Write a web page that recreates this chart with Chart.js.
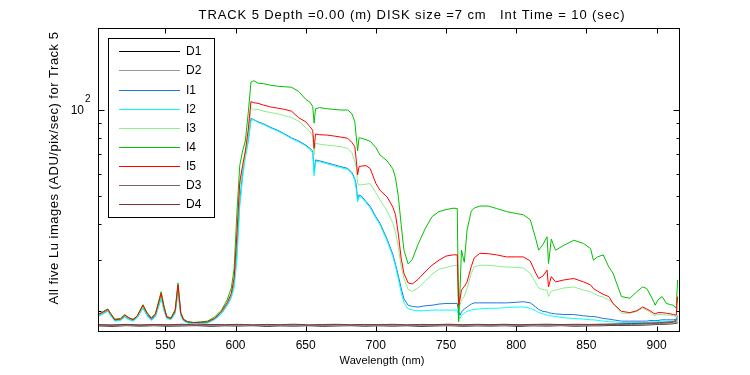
<!DOCTYPE html>
<html>
<head>
<meta charset="utf-8">
<script src="https://cdn.jsdelivr.net/npm/chart.js@4"></script>
<style>
  html, body { margin: 0; padding: 0; background: #fff; }
  canvas { display: block; }
</style>
</head>
<body>
<canvas id="lineChart" width="750" height="375"></canvas>
<script>
// Wavelength grid for the illuminated spectra (nm)
const wavelength = [
  502,505,509,511,514,518,521,524,527,530,
  534,537,540,543,547,549,551,554,557,559,
  561,563,566,570,575,580,585,590,594,597,
  599,601,603,605,607,609,611,613,616,620,
  625,630,635,640,645,650,653,655,656,657,
  660,665,670,675,680,683,685,686,687,688,
  690,693,696,700,703,708,712,714,716,718,
  720,723,726,730,735,740,745,750,755,758,
  759,760,761,763,765,768,770,774,780,786,
  793,800,805,810,814,816,819,822,823,825,
  828,834,841,848,853,855,858,862,866,869,
  875,881,886,890,893,896,898,899,901,904,
  907,910,912,914,915
];

const i1 = [
  19.2,19.5,20.0,19.3,18.5,18.6,19.1,18.7,18.5,19.0,
  20.5,19.3,18.6,19.2,22.3,20.2,18.9,18.7,19.7,23.6,
  19.3,18.5,18.2,18.1,18.1,18.2,18.7,19.6,21.0,22.5,
  25,33,48,60,70,78,93.5,92.5,91,89.5,
  87,85,82.5,80,78,75.5,73.5,72,61,67,
  66.5,65.5,64.5,63.5,62.6,60.5,57.5,55,48.6,50.6,
  50,48,46.1,42.5,40.3,35.5,31.5,29,26.5,24,
  22,20.9,20.7,20.6,20.8,20.9,21.1,21.2,21.2,21.2,
  19.8,19.3,19.8,20.3,20.6,21.1,21.3,21.3,21.3,21.3,
  21.3,21.4,21.5,21.3,20.6,20.2,19.9,19.8,19.7,19.6,
  19.5,19.4,19.4,19.2,19.1,19.1,19.0,18.8,18.7,18.6,
  18.4,18.4,18.4,18.4,18.4,18.5,18.5,18.5,18.5,18.6,
  18.6,18.6,18.6,18.7,19.2
];

const i2 = [
  19.1,19.4,19.9,19.2,18.4,18.5,19.0,18.6,18.4,18.9,
  20.4,19.2,18.5,19.1,22.0,20.0,18.8,18.6,19.6,23.2,
  19.2,18.4,18.1,18.0,18.0,18.1,18.6,19.5,20.8,22.2,
  24,30,46,58,68,77,92,92.5,90.5,89,
  86.5,84.5,82,79.5,77.5,75,73,71,59,66,
  66,65,64,63,62,60,57,53,47.9,50,
  49.5,47.5,45.6,42,39.8,35,31,28.5,25.8,23.2,
  21.3,20.3,20.1,20.0,20.0,20.1,20.1,20.1,20.1,20.1,
  19.0,18.8,19.3,19.6,19.9,20.1,20.2,20.3,20.4,20.4,
  20.5,20.6,20.6,20.4,20.0,19.7,19.5,19.3,19.2,19.2,
  19.1,18.9,18.8,18.7,18.6,18.6,18.5,18.4,18.3,18.3,
  18.2,18.2,18.2,18.2,18.2,18.3,18.3,18.3,18.3,18.4,
  18.4,18.4,18.4,18.5,18.9
];

const i3 = [
  19.3,19.6,20.1,19.4,18.6,18.7,19.2,18.8,18.6,19.1,
  20.7,19.5,18.8,19.4,22.6,20.4,19.0,18.8,19.9,24.0,
  19.5,18.6,18.3,18.2,18.2,18.3,18.8,19.8,21.2,22.8,
  25.5,36,54,62,69,82,102,100,100.5,99,
  98,97,95.5,94,91.5,87,84,81.5,69.7,76.6,
  76,75.5,75,74.5,73.5,71,66,63.5,55.5,54.8,
  54.9,55.2,55.4,51.5,48.6,44.5,40.5,37.5,33.4,28.5,
  26,23.7,23.4,24,25.3,26.8,27.9,28.3,28.7,28.8,
  20.1,21,21.8,22.4,24,27,28.4,28.8,28.8,28.6,
  28.4,28.3,28.2,27,25,24,23.7,23.6,22.4,23.4,
  23.6,24,24.2,23.6,23.3,23,22.6,22.3,21.8,21.2,
  19.6,19.6,19.9,20.4,20.1,19.7,19.3,19.3,19.4,19.4,
  19.3,19.3,19.2,19.1,20.5
];

const i4 = [
  19.4,19.8,20.3,19.6,18.7,18.8,19.4,18.9,18.7,19.2,
  21.0,19.7,18.9,19.6,23.3,20.8,19.1,18.9,20.2,25.0,
  19.7,18.7,18.3,18.2,18.3,18.4,19.0,20.1,21.8,24.0,
  28,44,64,72,78,97,125,126.5,124,123.5,
  122,121,120.5,120,116,109,106.5,103,90,101,
  102,101,100.5,100,100,97,91,81,72,80,
  79.7,78.8,77.8,74,69.7,66.5,62.5,58,50,40,
  32.5,29.1,30.2,34,38.5,42.5,44.3,45,45.5,45.4,
  18.3,24,32.5,29.5,38.2,44.5,45.5,46.3,46.3,45.4,
  44.3,43.6,43.2,41.5,35.5,32.5,34,36.2,29.2,35.5,
  32.5,33.8,35.2,34.3,32.9,30,30.8,31.3,28.4,27,
  22.4,22.1,23.3,24.2,23.9,22.5,21.5,20.9,21.8,22.4,
  21.2,21,20.9,20.4,25.6
];

const i5 = [
  19.4,19.7,20.2,19.5,18.6,18.7,19.3,18.9,18.6,19.2,
  20.9,19.6,18.8,19.5,23.0,20.6,19.0,18.8,20.0,24.6,
  19.6,18.6,18.3,18.2,18.2,18.3,18.8,19.9,21.3,23.0,
  26,37,56,64,72,85,107,106,105.5,104,
  102.5,101.5,100.5,99,94,91,87.5,85,73.5,82.5,
  82,81.8,81.2,80.5,79.7,77,74.5,67,59.5,63.5,
  63.8,64,62.5,55.5,52.5,49.8,46,43.2,37,30.5,
  27,25,24.8,25.7,27.3,28.8,30,31,31.3,31.3,
  20.9,22,23.6,24.3,25.2,28.5,30.5,31.7,31.6,31.3,
  30.8,30.8,30.8,29.8,27,25.9,26.4,27.7,24.2,26.3,
  25.2,25.6,25.9,25.2,24.6,23.9,23.4,22.8,22.4,21.2,
  19.9,19.7,20,20.6,20.3,19.9,19.6,19.5,19.7,19.7,
  19.6,19.5,19.4,19.3,22.4
];

// Dark frames on a coarser grid
const darkWavelength = [
  502,512,522,532,542,552,562,572,582,592,
  602,612,622,632,642,652,662,672,682,692,
  702,712,722,732,742,752,762,772,782,792,
  802,812,822,832,842,852,862,872,882,892,
  902,912,915
];

const d1 = [
  17.72,17.66,17.75,17.69,17.74,17.68,17.71,17.76,17.67,17.73,
  17.70,17.75,17.66,17.72,17.69,17.74,17.67,17.71,17.75,17.68,
  17.73,17.69,17.74,17.66,17.71,17.75,17.68,17.72,17.70,17.74,
  17.67,17.73,17.70,17.75,17.68,17.72,17.74,17.78,17.80,17.84,
  17.92,18.02,18.15
];

const d2 = [
  17.78,17.74,17.80,17.73,17.79,17.76,17.81,17.72,17.78,17.75,
  17.80,17.73,17.79,17.76,17.82,17.74,17.78,17.80,17.73,17.79,
  17.75,17.81,17.74,17.78,17.80,17.73,17.79,17.76,17.82,17.74,
  17.79,17.75,17.81,17.77,17.80,17.78,17.82,17.85,17.88,17.92,
  17.98,18.08,18.25
];

const d3 = [
  17.84,17.80,17.87,17.79,17.85,17.82,17.88,17.80,17.86,17.83,
  17.87,17.81,17.86,17.83,17.89,17.80,17.85,17.88,17.82,17.86,
  17.83,17.88,17.81,17.86,17.84,17.89,17.82,17.87,17.84,17.88,
  17.82,17.86,17.89,17.84,17.88,17.85,17.90,17.93,17.97,18.02,
  18.08,18.22,18.45
];

const d4 = [
  17.90,17.85,17.93,17.86,17.92,17.88,17.94,17.86,17.91,17.89,
  17.93,17.87,17.92,17.89,17.95,17.86,17.91,17.94,17.88,17.92,
  17.89,17.94,17.87,17.92,17.90,17.95,17.88,17.93,17.90,17.94,
  17.88,17.92,17.95,17.90,17.94,17.92,17.96,18.00,18.05,18.10,
  18.18,18.32,18.70
];

const xTicks = [550, 600, 650, 700, 750, 800, 850, 900];
const yMinorTicks = [20, 30, 40, 50, 60, 70, 80, 90];
const yMajorTicks = [100];

const FONT = "'Liberation Sans', Arial, sans-serif";

function toPoints(xs, ys) {
    return xs.map((x, i) => ({ x: x, y: ys[i] }));
}

// same plotting order as the original: later series drawn on top
const series = [
    { label: 'D1', x: darkWavelength, y: d1, color: '#000000' },
    { label: 'D2', x: darkWavelength, y: d2, color: '#999999' },
    { label: 'I1', x: wavelength, y: i1, color: '#1e78dc' },
    { label: 'I2', x: wavelength, y: i2, color: '#00ffff' },
    { label: 'I3', x: wavelength, y: i3, color: '#8cee8c' },
    { label: 'I4', x: wavelength, y: i4, color: '#00c000' },
    { label: 'I5', x: wavelength, y: i5, color: '#ff0000' },
    { label: 'D3', x: darkWavelength, y: d3, color: '#806060' },
    { label: 'D4', x: darkWavelength, y: d4, color: '#803535' },
];

// Frame, inward ticks, texts and legend box
const decorPlugin = {
    id: 'decor',
    afterDraw(chart) {
        const { ctx, chartArea: a, scales: { x, y } } = chart;
        ctx.save();
        ctx.strokeStyle = '#000';
        ctx.lineWidth = 1;
        const L = Math.round(a.left) + 0.5, R = Math.round(a.right) + 0.5;
        const T = Math.round(a.top) + 0.5, B = Math.round(a.bottom) + 0.5;
        ctx.strokeRect(L, T, R - L, B - T);

        ctx.beginPath();
        xTicks.forEach(v => {
            const px = Math.round(x.getPixelForValue(v)) + 0.5;
            ctx.moveTo(px, B); ctx.lineTo(px, B - 5);
            ctx.moveTo(px, T); ctx.lineTo(px, T + 5);
        });
        yMinorTicks.forEach(v => {
            const py = Math.round(y.getPixelForValue(v)) + 0.5;
            ctx.moveTo(L, py); ctx.lineTo(L + 3, py);
            ctx.moveTo(R, py); ctx.lineTo(R - 3, py);
        });
        yMajorTicks.forEach(v => {
            const py = Math.round(y.getPixelForValue(v)) + 0.5;
            ctx.moveTo(L, py); ctx.lineTo(L + 6, py);
            ctx.moveTo(R, py); ctx.lineTo(R - 6, py);
        });
        ctx.stroke();

        ctx.fillStyle = '#000';
        // y tick label 10^2
        yMajorTicks.forEach(v => {
            const py = y.getPixelForValue(v);
            ctx.font = '12px ' + FONT;
            ctx.textAlign = 'right';
            ctx.textBaseline = 'middle';
            ctx.fillText('10', 84, py + 0.5);
            ctx.font = '10px ' + FONT;
            ctx.textAlign = 'left';
            ctx.fillText('2', 85, py - 11);
        });

        // title
        ctx.font = '13px ' + FONT;
        ctx.letterSpacing = '0.9px';
        ctx.textAlign = 'center';
        ctx.textBaseline = 'middle';
        ctx.fillText('TRACK 5 Depth =0.00 (m) DISK size =7 cm   Int Time = 10 (sec)', 412, 15);

        // x axis title
        ctx.font = '11px ' + FONT;
        ctx.letterSpacing = '0.1px';
        ctx.fillText('Wavelength (nm)', 382, 360.5);

        // y axis title
        ctx.save();
        ctx.translate(54.5, 168);
        ctx.rotate(-Math.PI / 2);
        ctx.font = '13px ' + FONT;
        ctx.letterSpacing = '0.5px';
        ctx.fillText('All five Lu images (ADU/pix/sec) for Track 5', 0, 0);
        ctx.restore();
        ctx.letterSpacing = '0px';

        // legend
        const bx = 108.5, by = 38.5, bw = 106, bh = 179;
        ctx.fillStyle = '#fff';
        ctx.fillRect(bx, by, bw, bh);
        ctx.strokeStyle = '#000';
        ctx.strokeRect(bx, by, bw, bh);
        ctx.font = '12px ' + FONT;
        ctx.textAlign = 'left';
        ctx.textBaseline = 'middle';
        chart.data.datasets.forEach((ds, i) => {
            const ry = Math.round(51.3 + i * 19.1) + 0.5;
            ctx.strokeStyle = ds.borderColor;
            ctx.beginPath();
            ctx.moveTo(119, ry);
            ctx.lineTo(180, ry);
            ctx.stroke();
            ctx.fillStyle = '#000';
            ctx.fillText(ds.label, 186, ry + 0.5);
        });
        ctx.restore();
    }
};

const ctx = document.getElementById('lineChart').getContext('2d');
new Chart(ctx, {
    type: 'line',
    data: {
        datasets: series.map((s, i) => ({
            label: s.label,
            data: toPoints(s.x, s.y),
            borderColor: s.color,
            backgroundColor: s.color,
            borderWidth: 1,
            pointRadius: 0,
            tension: 0,
            fill: false,
            order: series.length - 1 - i,
        }))
    },
    options: {
        responsive: false,
        animation: false,
        layout: { padding: { left: 0, right: 71, top: 28, bottom: 0 } },
        plugins: {
            legend: { display: false },
            title: { display: false },
            tooltip: { enabled: false },
        },
        scales: {
            x: {
                type: 'linear',
                min: 502,
                max: 916,
                grid: { display: false, drawTicks: false },
                border: { display: false },
                afterBuildTicks: s => { s.ticks = xTicks.map(v => ({ value: v })); },
                afterFit: s => { s.height = 44; },
                ticks: {
                    color: '#000',
                    font: { family: FONT, size: 12 },
                    padding: 7,
                    maxRotation: 0,
                    autoSkip: false,
                },
            },
            y: {
                type: 'logarithmic',
                min: 17,
                max: 193,
                grid: { display: false, drawTicks: false },
                border: { display: false },
                ticks: { display: false },
                afterFit: s => { s.width = 98; },
            },
        },
    },
    plugins: [decorPlugin],
});
</script>
</body>
</html>
